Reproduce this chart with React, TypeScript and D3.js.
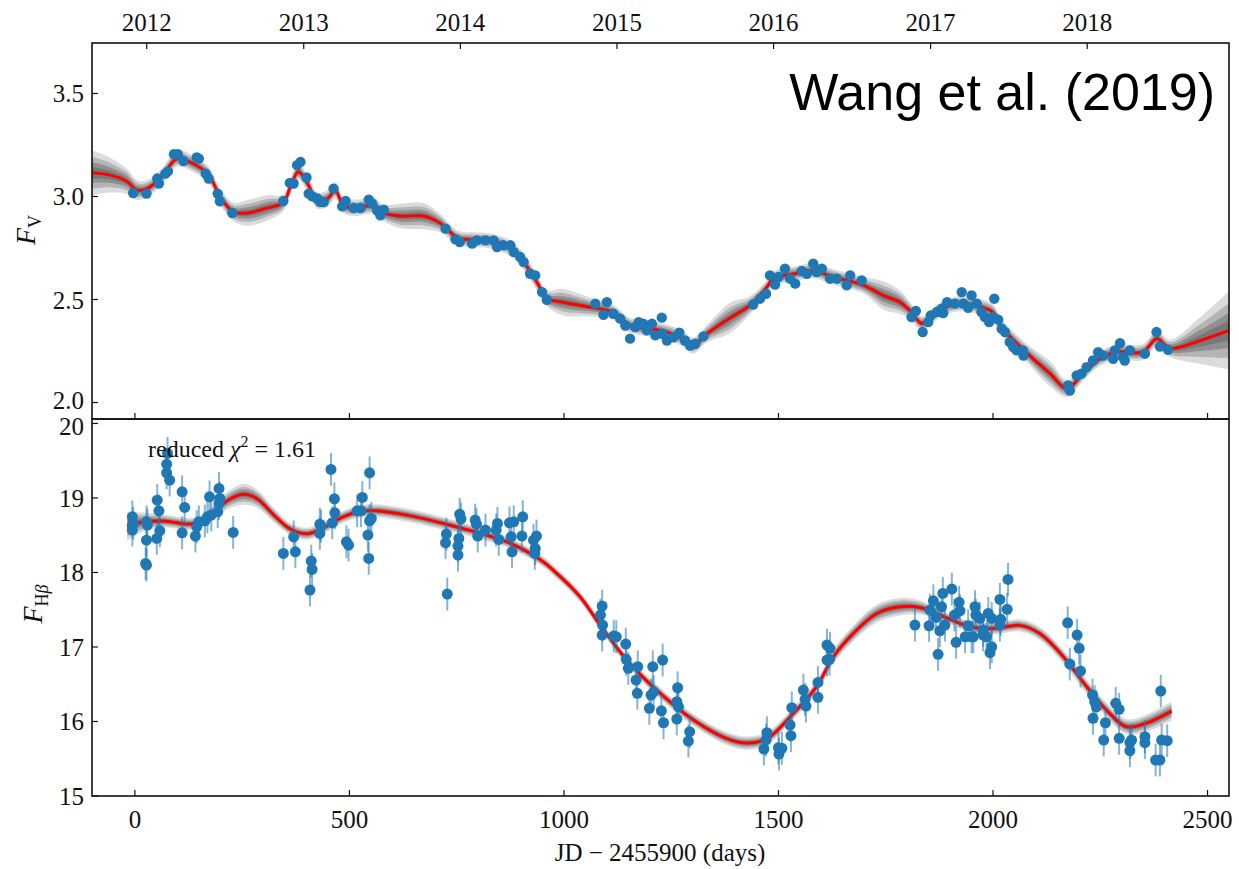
import React, { useEffect, useRef } from 'react'
import * as d3 from 'd3'

// V-band continuum (top panel)
const vDays = [-4, 27, 52, 56, 71, 77, 91, 100, 113, 144, 149, 165, 172, 193, 198, 227, 346, 361, 370, 378, 386, 400, 405, 413, 425, 432, 440, 463, 483, 491, 510, 526, 545, 553, 564, 572, 580, 724, 747, 757, 786, 797, 817, 836, 844, 859, 875, 883, 898, 906, 921, 933, 949, 960, 1073, 1092, 1100, 1115, 1131, 1143, 1154, 1166, 1174, 1185, 1193, 1205, 1213, 1228, 1229, 1240, 1255, 1269, 1282, 1294, 1306, 1325, 1441, 1457, 1471, 1480, 1492, 1500, 1515, 1527, 1539, 1554, 1566, 1581, 1589, 1601, 1620, 1636, 1659, 1667, 1694, 1810, 1820, 1836, 1849, 1855, 1869, 1880, 1884, 1893, 1911, 1927, 1931, 1942, 1950, 1962, 1973, 1981, 1991, 2003, 2000, 2012, 2020, 2028, 2039, 2047, 2055, 2070, 2071, 2175, 2179, 2195, 2206, 2218, 2233, 2245, 2257, 2280, 2284, 2296, 2303, 2307, 2319, 2354, 2381, 2389, 2408]
const vFlux = [3.017, 3.014, 3.087, 3.063, 3.111, 3.122, 3.205, 3.205, 3.172, 3.189, 3.184, 3.111, 3.087, 3.014, 2.977, 2.92, 2.978, 3.066, 3.063, 3.152, 3.168, 3.092, 3.014, 3.001, 2.99, 2.973, 2.973, 3.038, 2.952, 2.978, 2.944, 2.944, 2.985, 2.966, 2.933, 2.909, 2.936, 2.844, 2.792, 2.779, 2.771, 2.787, 2.787, 2.787, 2.755, 2.763, 2.763, 2.73, 2.706, 2.682, 2.625, 2.617, 2.536, 2.499, 2.48, 2.426, 2.487, 2.431, 2.407, 2.374, 2.31, 2.366, 2.39, 2.382, 2.35, 2.382, 2.326, 2.412, 2.334, 2.301, 2.317, 2.339, 2.301, 2.277, 2.285, 2.321, 2.476, 2.504, 2.528, 2.617, 2.572, 2.609, 2.65, 2.601, 2.577, 2.638, 2.625, 2.674, 2.633, 2.65, 2.601, 2.601, 2.569, 2.617, 2.593, 2.415, 2.444, 2.342, 2.39, 2.423, 2.439, 2.455, 2.434, 2.487, 2.48, 2.536, 2.48, 2.46, 2.52, 2.48, 2.439, 2.415, 2.39, 2.504, 2.415, 2.402, 2.358, 2.342, 2.293, 2.269, 2.253, 2.253, 2.228, 2.083, 2.058, 2.131, 2.14, 2.172, 2.204, 2.244, 2.228, 2.212, 2.253, 2.288, 2.22, 2.204, 2.253, 2.237, 2.342, 2.272, 2.256]
const vErr = 0.015

// best-fit reconstruction of the continuum
const vFitDays = [-100, -60, -20, 6, 30, 60, 99, 130, 170, 200, 230, 262, 309, 346, 362, 381, 402, 425, 449, 467, 486, 518, 556, 579, 619, 672, 712, 752, 789, 828, 882, 915, 938, 961, 998, 1061, 1115, 1154, 1194, 1224, 1271, 1301, 1334, 1387, 1434, 1473, 1487, 1543, 1580, 1627, 1697, 1744, 1783, 1806, 1834, 1853, 1883, 1923, 1977, 2000, 2023, 2079, 2133, 2172, 2210, 2249, 2288, 2349, 2382, 2412, 2482, 2550]
const vFitFlux = [3.115, 3.105, 3.075, 3.03, 3.04, 3.09, 3.185, 3.165, 3.11, 2.995, 2.925, 2.92, 2.945, 2.97, 3.045, 3.12, 3.065, 2.98, 2.99, 3.03, 2.957, 2.945, 2.957, 2.92, 2.905, 2.905, 2.87, 2.8, 2.79, 2.785, 2.74, 2.656, 2.58, 2.505, 2.487, 2.463, 2.438, 2.375, 2.36, 2.35, 2.317, 2.277, 2.335, 2.41, 2.473, 2.56, 2.6, 2.627, 2.64, 2.61, 2.57, 2.52, 2.487, 2.447, 2.384, 2.41, 2.457, 2.48, 2.46, 2.438, 2.36, 2.24, 2.14, 2.068, 2.14, 2.213, 2.245, 2.245, 2.31, 2.263, 2.3, 2.35]

// spread of the continuum realisations
const vBandDays = [-100, 0, 30, 200, 230, 285, 345, 580, 650, 720, 750, 960, 1015, 1070, 1100, 1330, 1385, 1440, 1470, 1700, 1755, 1810, 1830, 2070, 2125, 2175, 2200, 2410, 2480, 2550]
const vBandHalf = [0.11, 0.05, 0.04, 0.04, 0.045, 0.075, 0.04, 0.04, 0.075, 0.04, 0.035, 0.04, 0.075, 0.04, 0.035, 0.04, 0.075, 0.04, 0.035, 0.04, 0.075, 0.04, 0.035, 0.04, 0.065, 0.04, 0.035, 0.04, 0.11, 0.19]

// H-beta line (bottom panel)
const hbDays = [-6, -4, -6, 27, 29, 27, 25, 27, 52, 56, 51, 58, 76, 74, 74, 81, 110, 116, 110, 141, 144, 149, 163, 169, 174, 178, 196, 198, 196, 193, 229, 346, 370, 374, 411, 413, 408, 431, 434, 431, 457, 465, 466, 460, 493, 498, 518, 527, 530, 547, 551, 547, 543, 545, 726, 724, 728, 753, 755, 753, 757, 760, 793, 796, 799, 817, 845, 842, 848, 873, 877, 879, 883, 904, 902, 929, 933, 932, 936, 1089, 1085, 1090, 1089, 1116, 1122, 1144, 1145, 1150, 1172, 1168, 1171, 1199, 1203, 1207, 1209, 1230, 1227, 1232, 1265, 1263, 1267, 1263, 1293, 1290, 1466, 1473, 1471, 1500, 1508, 1501, 1527, 1529, 1531, 1558, 1562, 1564, 1592, 1592, 1613, 1620, 1613, 1619, 1818, 1851, 1853, 1861, 1872, 1876, 1880, 1883, 1867, 1888, 1904, 1910, 1914, 1921, 1923, 1935, 1942, 1954, 1958, 1960, 1969, 1950, 1977, 1977, 1985, 1989, 1997, 1997, 1993, 2016, 2018, 2016, 2033, 2035, 2174, 2196, 2201, 2179, 2204, 2232, 2237, 2241, 2233, 2262, 2258, 2286, 2294, 2294, 2319, 2323, 2319, 2354, 2354, 2391, 2393, 2406, 2379, 2389]
const hbFlux = [18.747, 18.659, 18.569, 18.68, 18.636, 18.434, 18.122, 18.099, 18.971, 18.828, 18.457, 18.559, 19.598, 19.454, 19.337, 19.239, 19.083, 18.873, 18.532, 18.488, 18.613, 18.68, 18.693, 18.747, 19.015, 18.77, 19.128, 18.994, 18.927, 18.814, 18.538, 18.256, 18.479, 18.278, 18.153, 18.041, 17.764, 18.649, 18.622, 18.524, 19.383, 18.989, 18.801, 18.667, 18.412, 18.367, 18.828, 18.828, 19.007, 19.337, 18.726, 18.693, 18.502, 18.189, 18.515, 18.398, 17.71, 18.354, 18.457, 18.233, 18.783, 18.72, 18.703, 18.649, 18.488, 18.569, 18.659, 18.569, 18.444, 18.667, 18.479, 18.278, 18.68, 18.747, 18.488, 18.434, 18.323, 18.256, 18.488, 17.549, 17.428, 17.294, 17.16, 17.147, 17.137, 17.039, 16.834, 16.713, 16.735, 16.556, 16.378, 16.177, 16.355, 16.735, 16.399, 16.825, 16.144, 15.983, 16.453, 16.265, 16.198, 16.033, 15.863, 15.738, 15.631, 15.849, 15.751, 15.648, 15.64, 15.563, 15.953, 15.809, 16.185, 16.422, 16.297, 16.207, 16.525, 16.324, 17.026, 16.982, 16.825, 16.834, 17.294, 17.285, 17.495, 17.62, 16.901, 17.218, 17.54, 17.719, 17.397, 17.294, 17.777, 17.428, 17.062, 17.599, 17.486, 17.137, 17.285, 17.137, 17.54, 17.428, 17.384, 17.137, 17.227, 17.16, 17.137, 17.451, 17.384, 17.003, 16.923, 17.639, 17.371, 17.294, 17.505, 17.907, 17.325, 17.16, 16.982, 16.771, 16.677, 16.355, 16.265, 16.198, 16.042, 15.983, 15.751, 16.244, 16.163, 15.774, 15.715, 15.751, 15.608, 15.796, 15.715, 16.409, 15.751, 15.742, 15.483, 15.483]
const hbErr = 0.22

const hbFitDays = [-18, 21, 67, 130, 161, 192, 223, 254, 285, 324, 363, 402, 440, 479, 518, 557, 634, 751, 867, 945, 992, 1038, 1085, 1147, 1224, 1302, 1380, 1426, 1473, 1535, 1589, 1628, 1674, 1729, 1783, 1830, 1884, 1931, 1969, 2008, 2063, 2109, 2164, 2218, 2265, 2311, 2358, 2416]
const hbFitFlux = [18.62, 18.68, 18.69, 18.65, 18.7, 18.86, 18.99, 19.05, 18.99, 18.77, 18.58, 18.52, 18.6, 18.73, 18.81, 18.83, 18.77, 18.61, 18.41, 18.17, 17.94, 17.67, 17.29, 16.82, 16.38, 16.02, 15.77, 15.71, 15.77, 16.11, 16.47, 16.87, 17.18, 17.45, 17.54, 17.53, 17.41, 17.3, 17.25, 17.25, 17.29, 17.18, 16.87, 16.47, 16.15, 15.93, 15.98, 16.14]

const hbBandDays = [-18, 40, 150, 254, 350, 450, 650, 900, 1100, 1300, 1420, 1550, 1650, 1760, 1880, 2050, 2150, 2300, 2416]
const hbBandHalf = [0.2, 0.09, 0.08, 0.14, 0.08, 0.08, 0.09, 0.07, 0.07, 0.08, 0.09, 0.08, 0.1, 0.13, 0.07, 0.08, 0.09, 0.1, 0.13]

const dayTicks = [0, 500, 1000, 1500, 2000, 2500]
const yearLabels = ['2012', '2013', '2014', '2015', '2016', '2017', '2018']
const yearDays = [27.5, 393.5, 758.5, 1123.5, 1488.5, 1854.5, 2219.5]
const vTicks = [2.0, 2.5, 3.0, 3.5]
const hbTicks = [15, 16, 17, 18, 19, 20]

const width = 1239
const height = 869
const margin = { left: 92, right: 1229, top: 43, mid: 419, bottom: 796 }
const serif = "'Liberation Serif', 'DejaVu Serif', serif"
const blue = '#1f77b4'

function LightCurves() {
    const ref = useRef(null)

    const buildChart = () => {
        const svg = d3.create('svg')
            .attr('width', width)
            .attr('height', height)
            .attr('viewBox', [0, 0, width, height])
            .style('position', 'absolute')
            .style('left', 0)
            .style('top', 0)
            .style('background', '#fff')

        const x = d3.scaleLinear().domain([-100, 2550]).range([margin.left, margin.right])
        const yV = d3.scaleLinear().domain([1.92, 3.745]).range([margin.mid, margin.top])
        const yH = d3.scaleLinear().domain([15, 20.06]).range([margin.bottom, margin.mid])

        const panel = (y, fitDays, fitFlux, bandDays, bandHalf, clipId, top, bottom) => {
            svg.append('clipPath').attr('id', clipId)
                .append('rect')
                .attr('x', margin.left).attr('y', top)
                .attr('width', margin.right - margin.left).attr('height', bottom - top)

            const g = svg.append('g').attr('clip-path', `url(#${clipId})`)
            const half = d3.scaleLinear().domain(bandDays).range(bandHalf).clamp(true)
            const fit = fitDays.map((d, i) => ({ d, v: fitFlux[i], h: half(d) }))

            // spread of realisations, drawn as nested bands
            const layers = [[1.0, 0.22], [0.7, 0.3], [0.45, 0.4], [0.25, 0.45]]
            for (const [k, op] of layers) {
                const area = d3.area()
                    .x(p => x(p.d))
                    .y0(p => y(p.v - p.h * k))
                    .y1(p => y(p.v + p.h * k))
                    .curve(d3.curveCatmullRom.alpha(0.5))
                g.append('path').datum(fit)
                    .attr('d', area)
                    .attr('fill', '#5a5a5a')
                    .attr('fill-opacity', op)
            }

            const line = d3.line()
                .x(p => x(p.d))
                .y(p => y(p.v))
                .curve(d3.curveCatmullRom.alpha(0.5))
            g.append('path').datum(fit)
                .attr('d', line)
                .attr('fill', 'none')
                .attr('stroke', '#ff0000')
                .attr('stroke-width', 3)
            return g
        }

        const gV = panel(yV, vFitDays, vFitFlux, vBandDays, vBandHalf, 'clipV', margin.top, margin.mid)
        const gH = panel(yH, hbFitDays, hbFitFlux, hbBandDays, hbBandHalf, 'clipH', margin.mid, margin.bottom)

        // data points
        const vPts = vDays.map((d, i) => ({ d, v: vFlux[i] }))
        gV.append('g').selectAll('line').data(vPts).join('line')
            .attr('x1', p => x(p.d)).attr('x2', p => x(p.d))
            .attr('y1', p => yV(p.v - vErr)).attr('y2', p => yV(p.v + vErr))
            .attr('stroke', blue).attr('stroke-width', 1.5)
        gV.append('g').selectAll('circle').data(vPts).join('circle')
            .attr('cx', p => x(p.d)).attr('cy', p => yV(p.v))
            .attr('r', 5.2).attr('fill', blue)

        const hPts = hbDays.map((d, i) => ({ d, v: hbFlux[i] }))
        gH.append('g').selectAll('line').data(hPts).join('line')
            .attr('x1', p => x(p.d)).attr('x2', p => x(p.d))
            .attr('y1', p => yH(p.v - hbErr)).attr('y2', p => yH(p.v + hbErr))
            .attr('stroke', blue).attr('stroke-width', 2).attr('stroke-opacity', 0.55)
        gH.append('g').selectAll('circle').data(hPts).join('circle')
            .attr('cx', p => x(p.d)).attr('cy', p => yH(p.v))
            .attr('r', 5.5).attr('fill', blue)

        // frames
        for (const [t, b] of [[margin.top, margin.mid], [margin.mid, margin.bottom]]) {
            svg.append('rect')
                .attr('x', margin.left).attr('y', t)
                .attr('width', margin.right - margin.left).attr('height', b - t)
                .attr('fill', 'none').attr('stroke', '#111').attr('stroke-width', 1.6)
        }

        const tickLen = 6
        const tickStyle = sel => sel.attr('stroke', '#111').attr('stroke-width', 1.2)

        // inward x ticks
        for (const yy of [margin.mid, margin.bottom]) {
            svg.append('g').selectAll('line').data(dayTicks).join('line')
                .attr('x1', d => x(d)).attr('x2', d => x(d))
                .attr('y1', yy).attr('y2', yy - tickLen)
                .call(tickStyle)
        }
        svg.append('g').selectAll('line').data(yearDays).join('line')
            .attr('x1', d => x(d)).attr('x2', d => x(d))
            .attr('y1', margin.top).attr('y2', margin.top + tickLen)
            .call(tickStyle)

        // y ticks
        svg.append('g').selectAll('line').data(vTicks).join('line')
            .attr('x1', margin.left).attr('x2', margin.left + tickLen)
            .attr('y1', d => yV(d)).attr('y2', d => yV(d))
            .call(tickStyle)
        svg.append('g').selectAll('line').data(hbTicks).join('line')
            .attr('x1', margin.left).attr('x2', margin.left + tickLen)
            .attr('y1', d => yH(d)).attr('y2', d => yH(d))
            .call(tickStyle)

        const label = (sel) => sel
            .attr('font-family', serif)
            .attr('font-size', 25)
            .attr('fill', '#111')

        svg.append('g').selectAll('text').data(dayTicks).join('text')
            .attr('x', d => x(d)).attr('y', 828)
            .attr('text-anchor', 'middle')
            .text(d => d)
            .call(label)
        svg.append('g').selectAll('text').data(yearDays).join('text')
            .attr('x', d => x(d)).attr('y', 31)
            .attr('text-anchor', 'middle')
            .text((d, i) => yearLabels[i])
            .call(label)
        svg.append('g').selectAll('text').data(vTicks).join('text')
            .attr('x', 84).attr('y', d => yV(d) + (d === 2.0 ? 6 : 9))
            .attr('text-anchor', 'end')
            .text(d => d.toFixed(1))
            .call(label)
        svg.append('g').selectAll('text').data(hbTicks).join('text')
            .attr('x', 84).attr('y', d => yH(d) + (d === 20 ? 12 : 9))
            .attr('text-anchor', 'end')
            .text(d => d)
            .call(label)

        // axis titles
        const yl1 = svg.append('text')
            .attr('transform', 'translate(35,230) rotate(-90)')
            .attr('text-anchor', 'middle')
            .call(label)
            .attr('font-size', 28)
        yl1.append('tspan').attr('font-style', 'italic').text('F')
        yl1.append('tspan').attr('font-size', 18).attr('dy', 6).text('V')

        const yl2 = svg.append('text')
            .attr('transform', 'translate(42,604) rotate(-90)')
            .attr('text-anchor', 'middle')
            .call(label)
            .attr('font-size', 28)
        yl2.append('tspan').attr('font-style', 'italic').text('F')
        yl2.append('tspan').attr('font-size', 18).attr('dy', 6).text('H')
        yl2.append('tspan').attr('font-size', 18).attr('font-style', 'italic').text('β')

        svg.append('text')
            .attr('x', 660).attr('y', 861)
            .attr('text-anchor', 'middle')
            .text('JD − 2455900 (days)')
            .call(label)

        const chi = svg.append('text')
            .attr('x', 148).attr('y', 457)
            .call(label)
            .attr('font-size', 24)
        chi.append('tspan').text('reduced ')
        chi.append('tspan').attr('font-style', 'italic').text('χ')
        chi.append('tspan').attr('font-size', 16).attr('dy', -10).text('2')
        chi.append('tspan').attr('dy', 10).text(' = 1.61')

        svg.append('text')
            .attr('x', 1215).attr('y', 110)
            .attr('text-anchor', 'end')
            .attr('font-family', "'Liberation Sans', Arial, sans-serif")
            .attr('font-size', 52)
            .attr('fill', '#000')
            .text('Wang et al. (2019)')

        return svg.node()
    }

    useEffect(() => {
        document.body.style.margin = '0'
        const node = ref.current
        node.innerHTML = ''
        node.appendChild(buildChart())
    }, [])

    return <div ref={ref} style={{ width, height, position: 'relative' }}></div>
}

export default function App() {
    return <LightCurves />
}
